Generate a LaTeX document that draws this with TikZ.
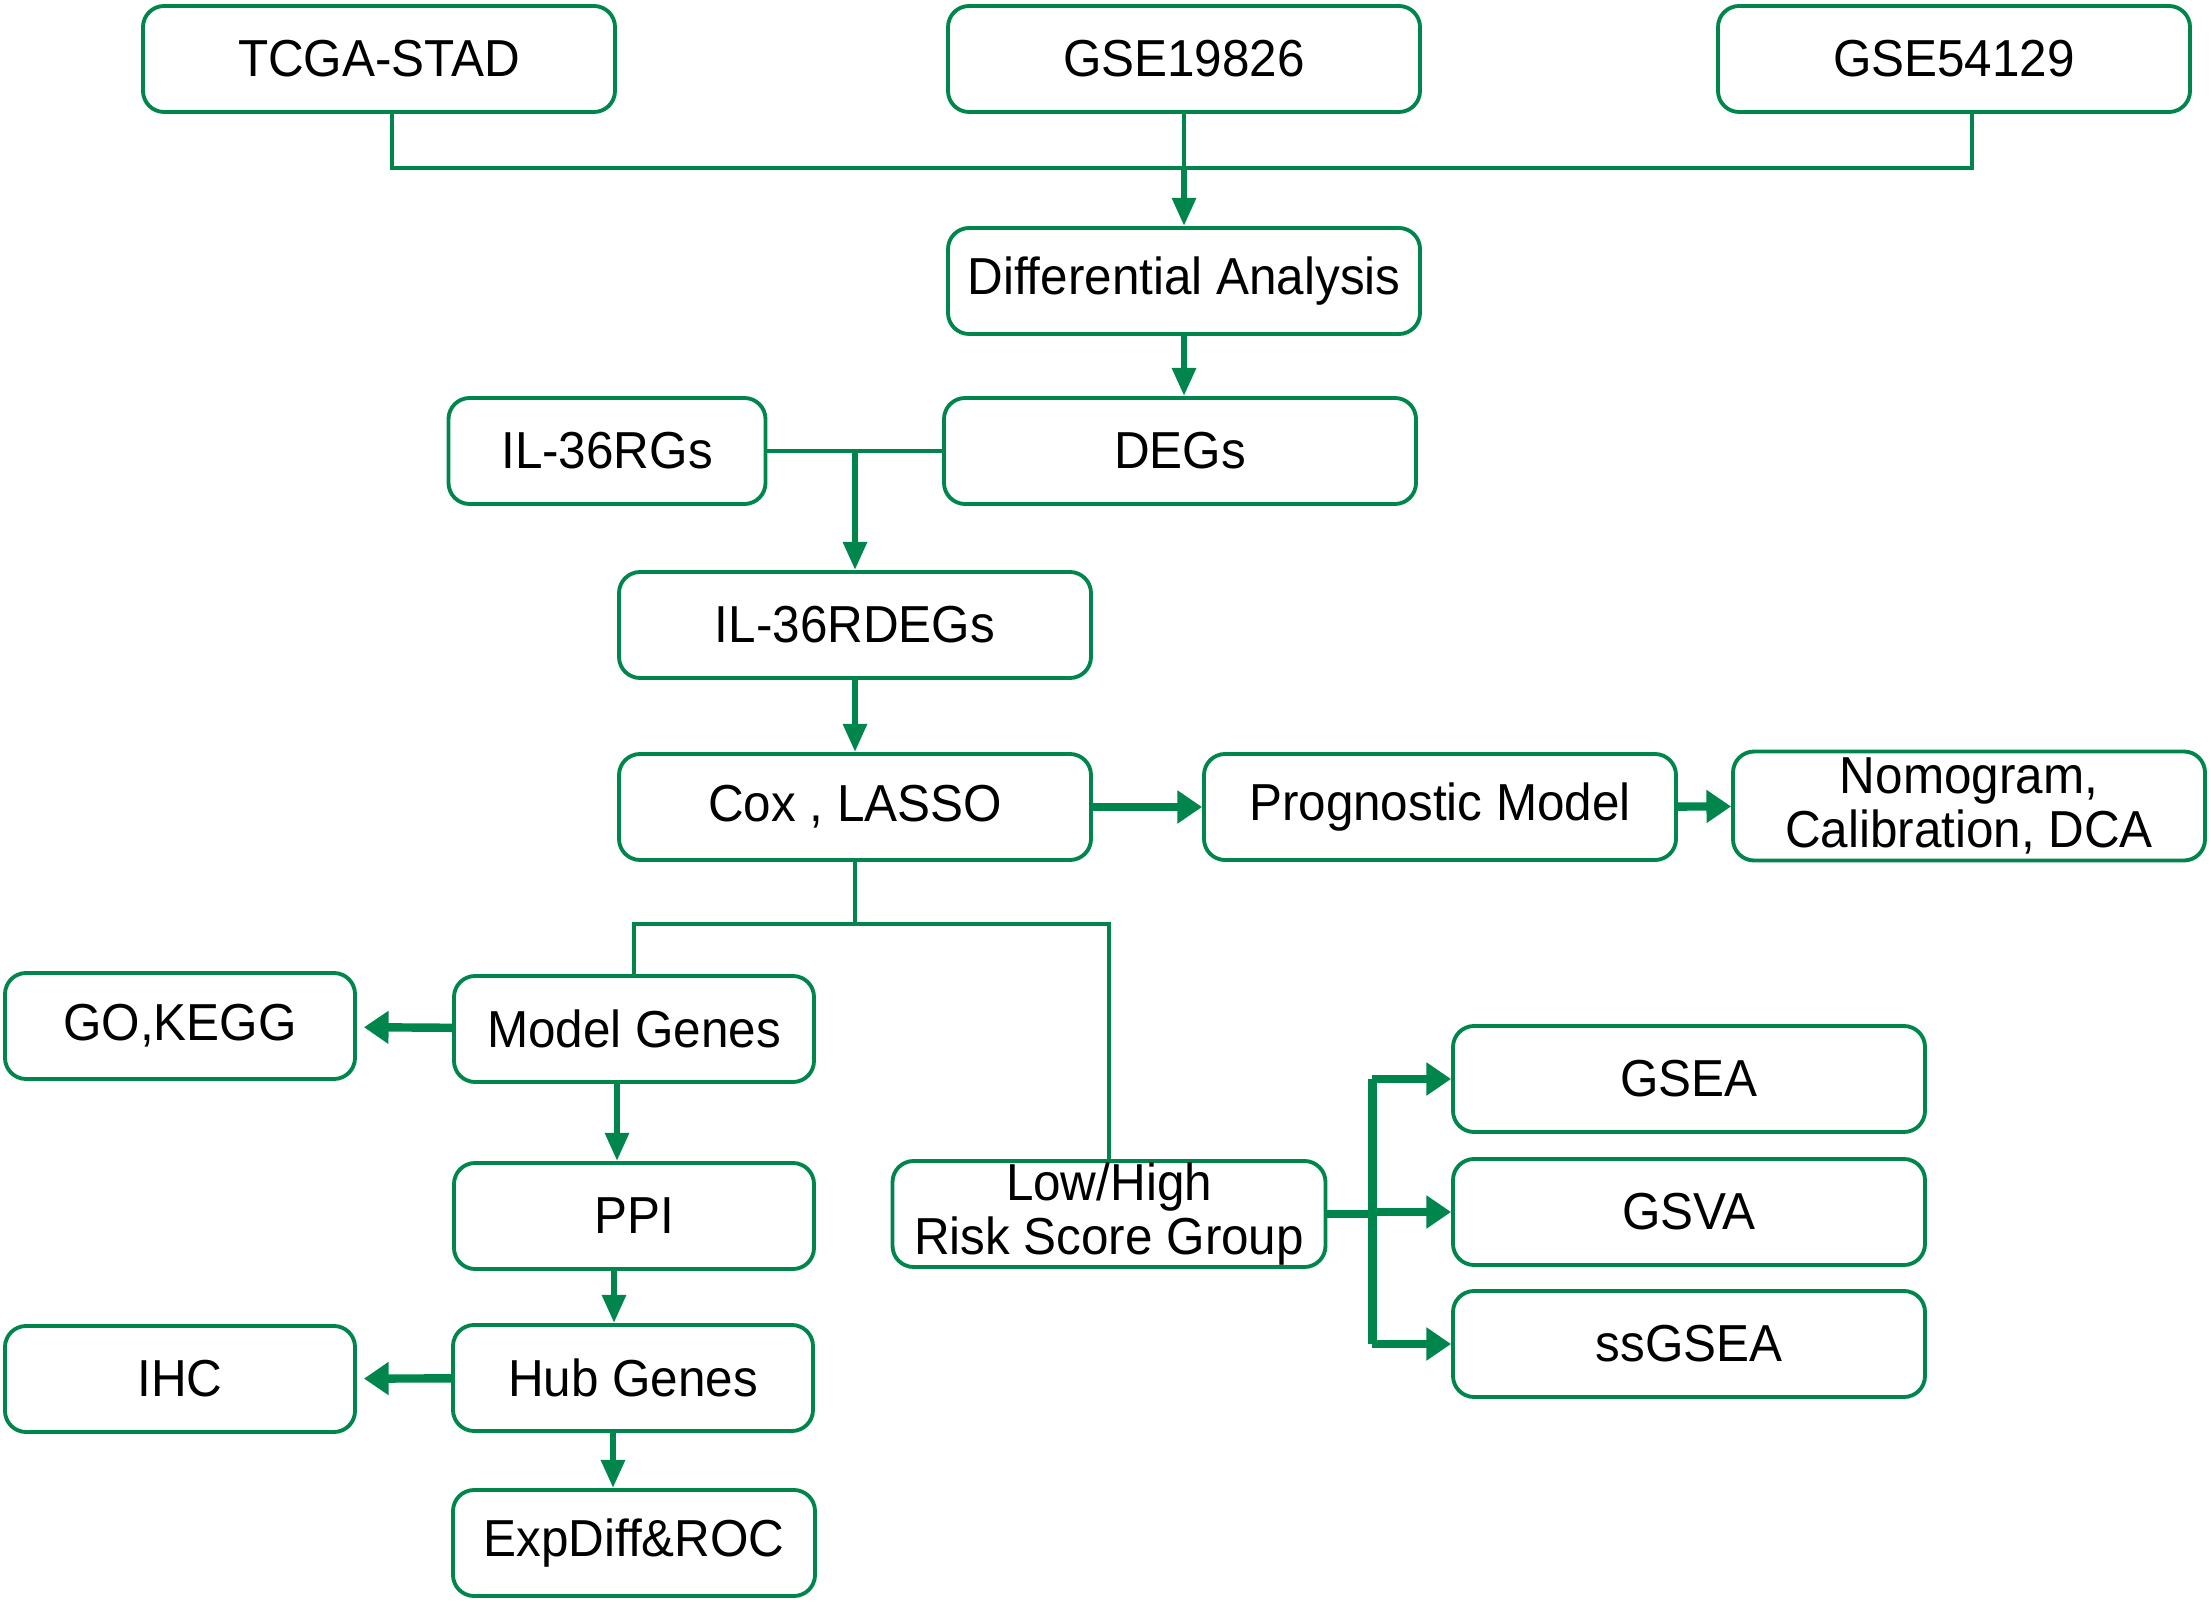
\documentclass[tikz,border=0pt]{standalone}
\usepackage{fontspec}
\setmainfont{Liberation Sans}[FakeStretch=0.95]
\usetikzlibrary{positioning,calc,arrows.meta}
\definecolor{flowgreen}{RGB}{0,134,76}

\begin{document}
\begin{tikzpicture}[
  box/.style={draw=flowgreen, line width=1.1pt, rounded corners=6pt, align=center,
    inner sep=0pt, minimum width=\W cm, minimum height=\H cm,
    font=\fontsize{14.8}{15.5}\selectfont},
  link/.style={draw=flowgreen, line width=1pt},
  bold/.style={draw=flowgreen, line width=1.8pt},
  heavy/.style={draw=flowgreen, line width=2.4pt},
  varr/.style={bold, -{Triangle[length=8pt,width=6.5pt]}},
  harr/.style={heavy, -{Triangle[length=7pt,width=9pt]}}
  ]
  % geometry
  \def\W{4.72} \def\H{1.06}
  \useasboundingbox (0,0) rectangle (22.11,-16.03);

  % data sets
  \node[box] (tcga) at (3.79,-0.59) {TCGA-STAD};
  \node[box] (gseA) at (11.84,-0.59) {GSE19826};
  \node[box] (gseB) at (19.54,-0.59) {GSE54129};

  % differential expression
  \node[box] (diff) at (11.84,-2.81) {Differential Analysis};
  \node[box] (degs) at (11.80,-4.51) {DEGs};
  \node[box, minimum width=3.17cm] (ilrg) at (6.07,-4.51) {IL-36RGs};
  \node[box] (ilrdeg) at (8.55,-6.25) {IL-36RDEGs};

  % model
  \node[box] (cox) at (8.55,-8.07) {Cox , LASSO};
  \node[box] (prog) at (14.40,-8.07) {Prognostic Model};
  \node[box, minimum height=1.09cm] (nomo) at (19.69,-8.06) {Nomogram,\\Calibration, DCA};

  % model genes branch
  \node[box, minimum width=3.6cm] (model) at (6.34,-10.29) {Model Genes};
  \node[box, minimum width=3.5cm] (gokegg) at (1.80,-10.26) {GO,KEGG};
  \node[box, minimum width=3.6cm] (ppi) at (6.34,-12.16) {PPI};
  \node[box, minimum width=3.6cm] (hub) at (6.33,-13.78) {Hub Genes};
  \node[box, minimum width=3.5cm] (ihc) at (1.80,-13.79) {IHC};
  \node[box, minimum width=3.62cm] (expdiff) at (6.34,-15.43) {ExpDiff\&ROC};

  % risk group branch
  \node[box, minimum width=4.33cm] (risk) at (11.09,-12.14) {Low/High\\Risk Score Group};
  \node[box] (gsea) at (16.89,-10.79) {GSEA};
  \node[box] (gsva) at (16.89,-12.12) {GSVA};
  \node[box] (ssgsea) at (16.89,-13.44) {ssGSEA};

  % merging the data sets
  \coordinate (merge) at ($(diff.north)+(0,0.58)$);
  \coordinate (tcgaout) at ([xshift=1.3mm]tcga.south);
  \coordinate (gseBout) at ([xshift=1.8mm]gseB.south);
  \draw[link] (tcgaout) |- (merge) -| (gseBout);
  \draw[link] (gseA.south) -- (gseA.south |- merge);
  \draw[varr] (merge) -- (diff.north);
  \draw[varr] (diff.south) -- (diff.south |- degs.north);

  % intersection
  \draw[link] (ilrg.east) -- (degs.west);
  \coordinate (join) at (ilrdeg.north |- ilrg.east);
  \draw[varr] (join) -- (ilrdeg.north);
  \draw[varr] (ilrdeg) -- (cox);
  \draw[harr] (cox) -- (prog);
  \draw[harr] (prog) -- (nomo);

  % split below Cox
  \coordinate (split) at ($(cox.south)+(0,-0.62)$);
  \draw[link] (cox.south) -- (split);
  \draw[link] (model.north) |- (split) -| (risk.north);

  % left column
  \draw[harr, shorten >=2pt] (model) -- (gokegg);
  \draw[varr] ([xshift=-1.7mm]model.south) -- ([xshift=-1.7mm]model.south |- ppi.north);
  \draw[varr] ([xshift=-2mm]ppi.south) -- ([xshift=-2mm]ppi.south |- hub.north);
  \draw[harr, shorten >=2pt] (hub) -- (ihc);
  \draw[varr] ([xshift=-2mm]hub.south) -- ([xshift=-2mm]hub.south |- expdiff.north);

  % enrichment fan-out
  \coordinate (bus) at ($(risk.east)+(0.45,0)$);
  \draw[heavy] (risk.east) -- (bus);
  \draw[heavy] (bus |- gsea.west) -- (bus |- ssgsea.west);
  \foreach \t in {gsea,gsva,ssgsea}
    \draw[harr] (bus |- \t.west) -- (\t.west);
\end{tikzpicture}
\end{document}
